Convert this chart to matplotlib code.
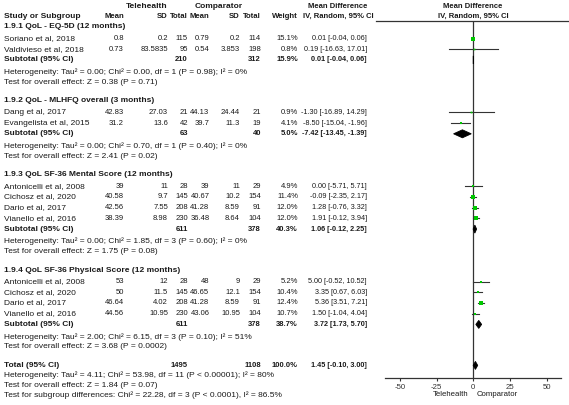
import numpy as np
import matplotlib
matplotlib.use("Agg")
import matplotlib.pyplot as plt

plt.rcParams['font.family'] = ['Liberation Sans', 'DejaVu Sans']
plt.rcParams['axes.unicode_minus'] = False
FS = 6.0        # running text
FS_NUM = 5.5    # numeric columns (reference digits are narrow)
FS_CI = 5.2     # confidence interval column
FS_HEAD = 5.5   # column headers
TXT = '#1a1a1a'
GREEN = '#00c800'

# ---- data ----
subgroups = ["1.9.1 QoL - EQ-5D (12 months)",
             "1.9.2 QoL - MLHFQ overall (3 months)",
             "1.9.3 QoL SF-36 Mental Score (12 months)",
             "1.9.4 QoL SF-36 Physical Score (12 months)"]
study_group = [0, 0, 1, 1, 2, 2, 2, 2, 3, 3, 3, 3]
studies = ["Soriano et al, 2018", "Valdivieso et al, 2018",
           "Dang et al, 2017", "Evangelista et al, 2015",
           "Antonicelli et al, 2008", "Cichosz et al, 2020", "Dario et al, 2017", "Vianello et al, 2016",
           "Antonicelli et al, 2008", "Cichosz et al, 2020", "Dario et al, 2017", "Vianello et al, 2016"]
tele_mean = [0.8, 0.73, 42.83, 31.2, 39, 40.58, 42.56, 38.39, 53, 50, 46.64, 44.56]
tele_sd = [0.2, 83.5835, 27.03, 13.6, 11, 9.7, 7.55, 8.98, 12, 11.5, 4.02, 10.95]
tele_n = [115, 95, 21, 42, 28, 145, 208, 230, 28, 145, 208, 230]
comp_mean = [0.79, 0.54, 44.13, 39.7, 39, 40.67, 41.28, 36.48, 48, 46.65, 41.28, 43.06]
comp_sd = [0.2, 3.853, 24.44, 11.3, 11, 10.2, 8.59, 8.64, 9, 12.1, 8.59, 10.95]
comp_n = [114, 198, 21, 19, 29, 154, 91, 104, 29, 154, 91, 104]
weight = [15.1, 0.8, 0.9, 4.1, 4.9, 11.4, 12.0, 12.0, 5.2, 10.4, 12.4, 10.7]
md = [0.01, 0.19, -1.30, -8.50, 0.00, -0.09, 1.28, 1.91, 5.00, 3.35, 5.36, 1.50]
md_lo = [-0.04, -16.63, -16.89, -15.04, -5.71, -2.35, -0.76, -0.12, -0.52, 0.67, 3.51, -1.04]
md_hi = [0.06, 17.01, 14.29, -1.96, 5.71, 2.17, 3.32, 3.94, 10.52, 6.03, 7.21, 4.04]

sub_tele_n = [210, 63, 611, 611]
sub_comp_n = [312, 40, 378, 378]
sub_weight = [15.9, 5.0, 40.3, 38.7]
sub_md = [0.01, -7.42, 1.06, 3.72]
sub_lo = [-0.04, -13.45, -0.12, 1.73]
sub_hi = [0.06, -1.39, 2.25, 5.70]
sub_het = ["Heterogeneity: Tau² = 0.00; Chi² = 0.00, df = 1 (P = 0.98); I² = 0%",
           "Heterogeneity: Tau² = 0.00; Chi² = 0.70, df = 1 (P = 0.40); I² = 0%",
           "Heterogeneity: Tau² = 0.00; Chi² = 1.85, df = 3 (P = 0.60); I² = 0%",
           "Heterogeneity: Tau² = 2.00; Chi² = 6.15, df = 3 (P = 0.10); I² = 51%"]
sub_test = ["Test for overall effect: Z = 0.38 (P = 0.71)",
            "Test for overall effect: Z = 2.41 (P = 0.02)",
            "Test for overall effect: Z = 1.75 (P = 0.08)",
            "Test for overall effect: Z = 3.68 (P = 0.0002)"]

total_tele_n = 1495
total_comp_n = 1108
total_weight = 100.0
total_md, total_lo, total_hi = 1.45, -0.10, 3.00
total_notes = ["Heterogeneity: Tau² = 4.11; Chi² = 53.98, df = 11 (P < 0.00001); I² = 80%",
               "Test for overall effect: Z = 1.84 (P = 0.07)",
               "Test for subgroup differences: Chi² = 22.28, df = 3 (P < 0.0001), I² = 86.5%"]

x_ticks = [-50, -25, 0, 25, 50]

# ---- layout (pixel units of a 569x405 canvas) ----
W, H = 569, 405
COLS = [124, 168, 188, 209.5, 240, 261, 298, 367]  # right edges of numeric columns
AXIS_Y = 378
TOP_LINE = 21

fig = plt.figure(figsize=(W / 100, H / 100), dpi=100)
bg = fig.add_axes([0, 0, 1, 1])
bg.set_xlim(0, W); bg.set_ylim(H, 0); bg.axis('off')

fa = fig.add_axes([385.3 / W, 1 - AXIS_Y / H, 176 / W, (AXIS_Y - TOP_LINE) / H])
fa.set_xlim(-60, 60); fa.set_ylim(AXIS_Y, TOP_LINE)
fa.patch.set_visible(False)


def put(x, y, s, ha='left', bold=False, size=FS):
    bg.text(x, y, s, ha=ha, va='center', fontsize=size, color=TXT,
            fontweight='bold' if bold else 'normal')


def row_cells(y, cells, bold=False):
    for k, (x, s) in enumerate(zip(COLS, cells)):
        if s != "":
            put(x, y, s, ha='right', bold=bold, size=FS_CI if k == len(COLS) - 1 else FS_NUM)


def ci_text(m, lo, hi):
    return "%.2f [%.2f, %.2f]" % (m, lo, hi)


def diamond(y, m, lo, hi):
    h = 4
    fa.fill([lo, m, hi, m], [y, y - h, y, y + h], color='black', lw=0.6, ec='black', zorder=4)


# headers
put(147, 6, "Telehealth", ha='center', bold=True)
put(219, 6, "Comparator", ha='center', bold=True)
put(338, 6, "Mean Difference", ha='center', bold=True, size=FS_HEAD)
put(338, 16, "IV, Random, 95% CI", ha='center', bold=True, size=FS_HEAD)
put(473, 6, "Mean Difference", ha='center', bold=True, size=FS_HEAD)
put(473, 16, "IV, Random, 95% CI", ha='center', bold=True, size=FS_HEAD)
put(4, 16, "Study or Subgroup", bold=True)
for x, s in zip(COLS, ["Mean", "SD", "Total", "Mean", "SD", "Total", "Weight"]):
    put(x, 16, s, ha='right', bold=True, size=FS_HEAD + 0.1)
bg.plot([376, W], [TOP_LINE, TOP_LINE], color='#333333', lw=0.9)

y = 27
for g, name in enumerate(subgroups):
    put(4, y, name, bold=True)
    y += 11.5
    for i in [k for k in range(len(studies)) if study_group[k] == g]:
        put(4, y, studies[i])
        row_cells(y, ["%g" % tele_mean[i], "%g" % tele_sd[i], str(tele_n[i]),
                      "%g" % comp_mean[i], "%g" % comp_sd[i], str(comp_n[i]),
                      "%.1f%%" % weight[i], ci_text(md[i], md_lo[i], md_hi[i])])
        fa.plot([md_lo[i], md_hi[i]], [y, y], color='#333333', lw=0.8, zorder=2)
        side = (1.2 + 0.55 * np.sqrt(weight[i])) * 0.72
        fa.plot(md[i], y, 's', color=GREEN, markersize=side, markeredgewidth=0, zorder=3)
        y += 10.7
    put(4, y, "Subtotal (95% CI)", bold=True)
    row_cells(y, ["", "", str(sub_tele_n[g]), "", "", str(sub_comp_n[g]),
                  "%.1f%%" % sub_weight[g], ci_text(sub_md[g], sub_lo[g], sub_hi[g])], bold=True)
    diamond(y, sub_md[g], sub_lo[g], sub_hi[g])
    y += 12.5
    put(4, y, sub_het[g])
    y += 10
    put(4, y, sub_test[g])
    y += 18.5

put(4, y, "Total (95% CI)", bold=True)
row_cells(y, ["", "", str(total_tele_n), "", "", str(total_comp_n),
              "%.1f%%" % total_weight, ci_text(total_md, total_lo, total_hi)], bold=True)
diamond(y, total_md, total_lo, total_hi)
for note in total_notes:
    y += 10
    put(4, y, note)

# forest axis
fa.axvline(0, color='#333333', lw=0.9, zorder=1)
for s in ['top', 'left', 'right']:
    fa.spines[s].set_visible(False)
fa.spines['bottom'].set_color('#333333')
fa.spines['bottom'].set_linewidth(0.9)
fa.set_yticks([])
fa.set_xticks(x_ticks)
fa.tick_params(axis='x', direction='out', length=2.5, width=0.8, color='#333333',
               labelsize=5.6, labelcolor='#333333', pad=1.5)
put(468, 395, "Telehealth", ha='right', size=5.6)
put(477, 395, "Comparator", size=5.6)

fig.savefig("out.png", dpi=100)
